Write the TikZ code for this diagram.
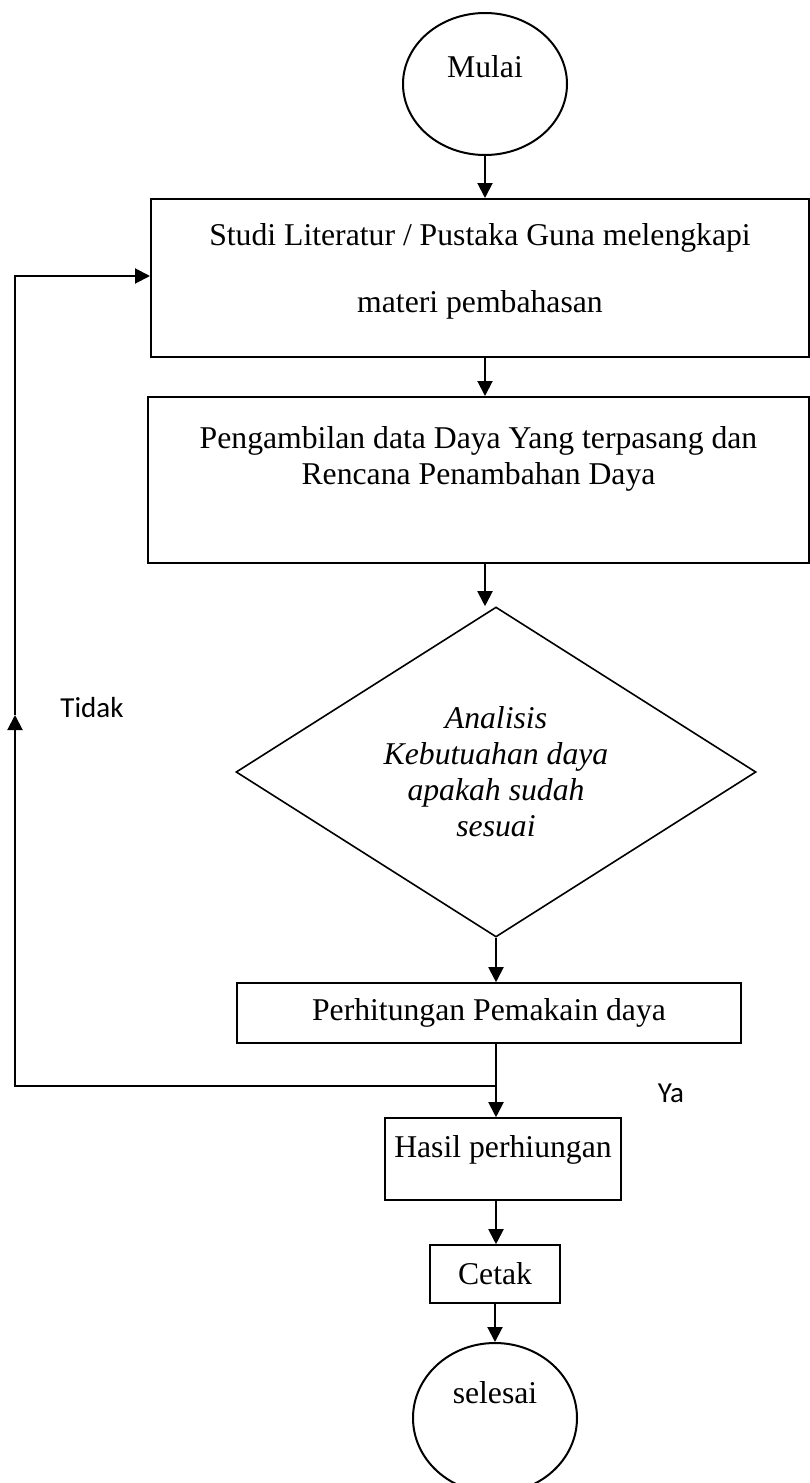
\documentclass[tikz,border=0pt]{standalone}
\usepackage{fontspec}
\setmainfont{Liberation Serif}
\newfontfamily\calibri{Carlito}
\usetikzlibrary{shapes.geometric,arrows.meta,positioning}
\begin{document}
\begin{tikzpicture}[
        x=1pt, y=-1pt,
        every node/.style={
            inner sep=0pt,
            font=\fontsize{31.7}{36}\selectfont
        },
        terminal/.style={ellipse, draw=black, line width=2pt, minimum width=164pt, minimum height=142pt},
        proses/.style={rectangle, draw=black, line width=1.6pt, align=center},
        keputusan/.style={diamond, draw=black, line width=1.6pt, align=center, shape aspect=1.6,
            font=\fontsize{31.7}{36}\selectfont\itshape},
        teks/.style={font=\calibri\fontsize{29}{34}\selectfont},
        panah/.style={line width=2pt, -{Triangle[length=15pt,width=15pt]}}
    ]
    \useasboundingbox (0,0) rectangle (809,1483);

    % Simpul
    \node[terminal, label={[yshift=17pt]center:Mulai}] (mulai) at (485,84) {};
    \node[proses, line width=2pt, minimum width=658pt, minimum height=158pt,
          label={[align=center, font=\fontsize{31.7}{67}\selectfont, yshift=7pt]center:Studi Literatur / Pustaka Guna melengkapi\\materi pembahasan}] (studi) at (480,278) {};
    \node[proses, line width=2pt, minimum width=661pt, minimum height=166pt,
          label={[align=center, yshift=21pt]center:Pengambilan data Daya Yang terpasang dan\\Rencana Penambahan Daya}] (data) at (478.5,480) {};
    \node[keputusan, minimum width=520pt, minimum height=330pt] (analisis) at (496,772) {Analisis\\Kebutuahan daya\\apakah sudah\\sesuai};
    \node[proses, minimum width=504pt, minimum height=60pt] (hitung) at (489,1013) {Perhitungan Pemakain daya};
    \node[proses, minimum width=236pt, minimum height=82pt, label={[yshift=9pt]center:Hasil perhiungan}] (hasil) at (503,1159) {};
    \node[proses, minimum width=130pt, minimum height=58pt] (cetak) at (495,1274) {Cetak};
    \node[terminal, minimum height=150pt, label={[yshift=25pt]center:selesai}] (selesai) at (495,1418) {};

    % Keterangan
    \node[teks] (tidak) at (92,708) {Tidak};
    \node[teks] (ya) at (671,1093) {Ya};

    % Titik belok
    \coordinate (cabang) at (496,1086);
    \coordinate (bawahkiri) at (15,1086);
    \coordinate (tengahkiri) at (15,715);
    \coordinate (ataskiri) at (15,276);

    % Panah
    \draw[panah] (mulai) -- (mulai |- studi.north);
    \draw[panah] (studi.south -| mulai) -- (data.north -| mulai);
    \draw[panah] (data.south -| mulai) -- (analisis.north -| mulai);
    \draw[panah] (analisis) -- (analisis |- hitung.north);
    \draw[panah] (hitung.south -| analisis) -- (hasil.north -| analisis);
    \draw[panah] (cabang) -- (bawahkiri) -- (tengahkiri);
    \draw[panah] (tengahkiri) -- (ataskiri) -- (studi.west |- ataskiri);
    \draw[panah] (hasil.south -| analisis) -- (cetak.north -| analisis);
    \draw[panah] (cetak.south -| selesai) -- (selesai);

\end{tikzpicture}
\end{document}
